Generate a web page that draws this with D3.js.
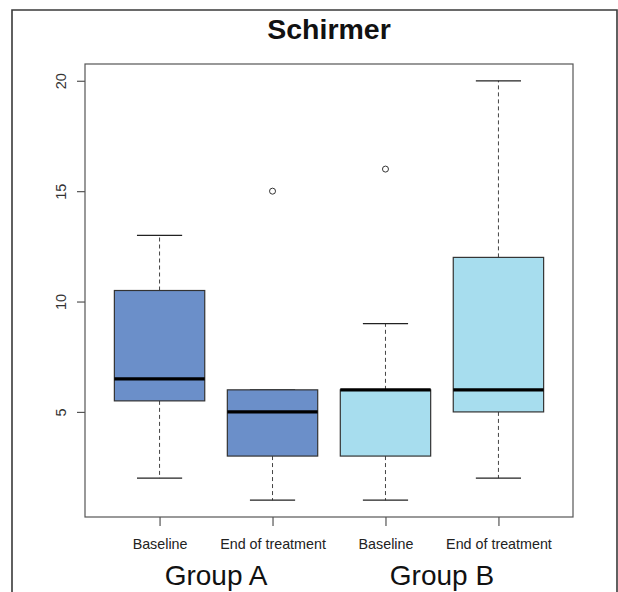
<!DOCTYPE html>
<html>
<head>
<meta charset="utf-8">
<script src="https://cdn.jsdelivr.net/npm/d3@7"></script>
<style>
  html, body { margin: 0; padding: 0; background: #fff; }
  svg { display: block; font-family: "Liberation Sans", Arial, sans-serif; }
</style>
</head>
<body>
<svg id="chart" width="618" height="592"></svg>
<script>
// boxplot stats
const categories = ["Baseline", "End of treatment", "Baseline", "End of treatment"]
const groups = ["Group A", "Group B"]
const boxGroup = [0, 0, 1, 1]
const lowWhisker = [2, 1, 1, 2]
const q1 = [5.5, 3, 3, 5]
const median = [6.5, 5, 6, 6]
const q3 = [10.5, 6, 6, 12]
const highWhisker = [13, 6, 9, 20]
const outliers = [[], [15], [16], []]
const yTicks = [5, 10, 15, 20]
const groupColors = ["#6b8fc9", "#a7ddee"]

const svg = d3.select("#chart")

const plotL = 85, plotR = 573, plotT = 64, plotB = 517

// R style: range padded by 4%
const x = d3.scaleLinear().domain([0.34, 4.66]).range([plotL, plotR])
const y = d3.scaleLinear().domain([0.24, 20.76]).range([plotB, plotT])

const boxW = x(1.4) - x(1) // half of boxwex 0.8
const capW = x(1.2) - x(1)

//outer frame
svg.append("path")
  .attr("d", `M12 592 V10 H617 V592`)
  .attr("fill", "none")
  .attr("stroke", "#3a3a3a")
  .attr("stroke-width", 1.6)

svg.append("text")
  .attr("x", (plotL + plotR) / 2)
  .attr("y", 39)
  .attr("text-anchor", "middle")
  .attr("font-size", 28.5)
  .attr("font-weight", "bold")
  .attr("fill", "#111")
  .text("Schirmer")

const boxes = svg.append("g")

categories.forEach((c, i) => {
  const cx = x(i + 1)
  const g = boxes.append("g")

  // whiskers
  g.append("line")
    .attr("x1", cx).attr("x2", cx)
    .attr("y1", y(q3[i])).attr("y2", y(highWhisker[i]))
    .attr("stroke", "#444").attr("stroke-dasharray", "4,3")
  g.append("line")
    .attr("x1", cx).attr("x2", cx)
    .attr("y1", y(q1[i])).attr("y2", y(lowWhisker[i]))
    .attr("stroke", "#444").attr("stroke-dasharray", "4,3")

  // caps
  ;[lowWhisker[i], highWhisker[i]].forEach(v => {
    g.append("line")
      .attr("x1", cx - capW).attr("x2", cx + capW)
      .attr("y1", y(v)).attr("y2", y(v))
      .attr("stroke", "#222").attr("stroke-width", 1.2)
  })

  g.append("rect")
    .attr("x", cx - boxW)
    .attr("y", y(q3[i]))
    .attr("width", boxW * 2)
    .attr("height", y(q1[i]) - y(q3[i]))
    .attr("fill", groupColors[boxGroup[i]])
    .attr("stroke", "#333")
    .attr("stroke-width", 1.2)

  g.append("line")
    .attr("x1", cx - boxW).attr("x2", cx + boxW)
    .attr("y1", y(median[i])).attr("y2", y(median[i]))
    .attr("stroke", "#000").attr("stroke-width", 3.2)

  outliers[i].forEach(v => {
    g.append("circle")
      .attr("cx", cx).attr("cy", y(v)).attr("r", 3)
      .attr("fill", "none").attr("stroke", "#333").attr("stroke-width", 1)
  })
})

// plot box
svg.append("rect")
  .attr("x", plotL).attr("y", plotT)
  .attr("width", plotR - plotL).attr("height", plotB - plotT)
  .attr("fill", "none")
  .attr("stroke", "#555")
  .attr("stroke-width", 1.2)

// y axis
const yAxis = svg.append("g")
  .attr("transform", `translate(${plotL},0)`)
  .call(d3.axisLeft(y).tickValues(yTicks).tickSize(8).tickSizeOuter(0).tickPadding(0))
yAxis.select(".domain").remove()
yAxis.selectAll(".tick line").attr("stroke", "#555").attr("stroke-width", 1.2)
yAxis.selectAll(".tick text")
  .attr("x", 0).attr("dy", null)
  .attr("transform", "translate(-19.5,0) rotate(-90)")
  .attr("text-anchor", "middle")
  .attr("font-size", 14.5)
  .attr("font-family", "Liberation Sans, Arial, sans-serif")
  .attr("fill", "#333")

// x axis ticks + labels
const xAxis = svg.append("g")
  .attr("transform", `translate(0,${plotB})`)
  .call(d3.axisBottom(x).tickValues([1, 2, 3, 4]).tickSize(9).tickSizeOuter(0).tickFormat((d) => categories[d - 1]))
xAxis.select(".domain").remove()
xAxis.selectAll(".tick line").attr("stroke", "#555").attr("stroke-width", 1.2)
xAxis.selectAll(".tick text")
  .attr("y", 32).attr("dy", null)
  .attr("font-size", 14.3)
  .attr("font-family", "Liberation Sans, Arial, sans-serif")
  .attr("fill", "#222")

groups.forEach((gname, k) => {
  svg.append("text")
    .attr("x", x(1.5 + 2 * k))
    .attr("y", 585)
    .attr("text-anchor", "middle")
    .attr("font-size", 28)
    .attr("fill", "#111")
    .text(gname)
})
</script>
</body>
</html>
